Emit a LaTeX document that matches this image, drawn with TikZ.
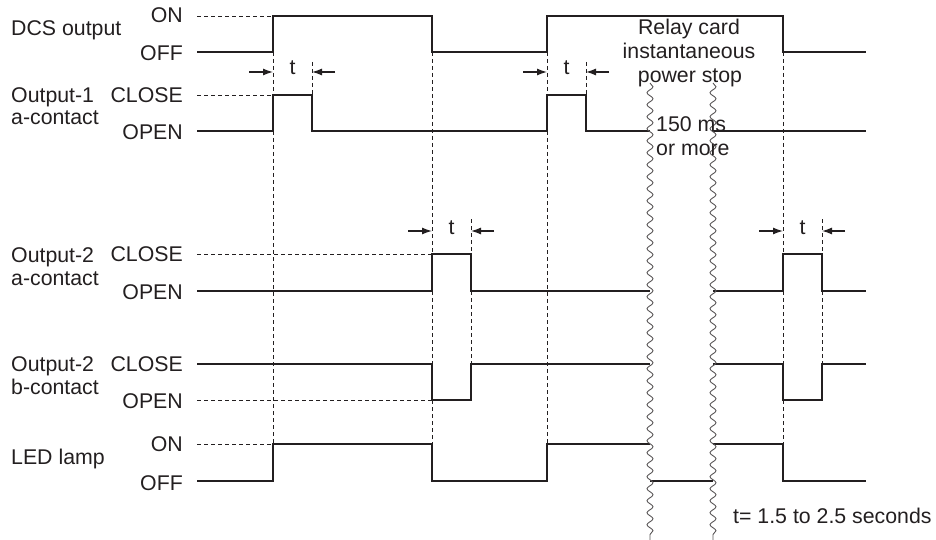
\documentclass[tikz,border=0pt]{standalone}
\usepackage{fontspec}
\setmainfont{Liberation Sans}
\usetikzlibrary{decorations.pathmorphing,arrows.meta,calc}
\definecolor{ink}{HTML}{231F20}
\begin{document}
\begin{tikzpicture}[x=1pt,y=-1pt,
 sig/.style={line width=2.6pt, line join=miter, line cap=butt, draw=ink},
 refdash/.style={line width=0.9pt, dash pattern=on 4pt off 3pt, draw=ink},
 wav/.style={line width=0.9pt, draw=ink!75, decorate, decoration={snake, segment length=12pt, amplitude=3pt}},
 lbl/.style={font=\fontsize{21.3}{24}\selectfont, inner sep=0pt, text=ink},
 lv/.style={lbl, anchor=east},
 ln/.style={lbl, anchor=base west},
 tarr/.style={line width=1.3pt, -{Latex[length=10pt,width=7pt]}, draw=ink}]
\useasboundingbox (0,0) rectangle (936,540);
% ---- left labels
\node[ln] (dcs) at (11,36) {DCS output};
\node[ln] (o1a) at (11,103) {Output-1};
\node[ln] (o1b) at (11,125) {a-contact};
\node[ln] (o2a) at (11,262) {Output-2};
\node[ln] (o2b) at (11,285) {a-contact};
\node[ln] (o3a) at (11,371) {Output-2};
\node[ln] (o3b) at (11,394) {b-contact};
\node[ln] (led) at (11,464) {LED lamp};
% ---- level labels
\node[lv] (l1) at (183,15) {ON};
\node[lv] (l2) at (183,53) {OFF};
\node[lv] (l3) at (183,95) {CLOSE};
\node[lv] (l4) at (183,132) {OPEN};
\node[lv] (l5) at (183,254) {CLOSE};
\node[lv] (l6) at (183,292) {OPEN};
\node[lv] (l7) at (183,364) {CLOSE};
\node[lv] (l8) at (183,401) {OPEN};
\node[lv] (l9) at (183,444) {ON};
\node[lv] (l10) at (183,483) {OFF};
% ---- reference dashed lines
\draw[refdash] (197,16)--(273,16);
\draw[refdash] (197,95)--(273,95);
\draw[refdash] (197,254)--(432,254);
\draw[refdash] (197,400)--(432,400);
\draw[refdash] (197,444)--(273,444);
% vertical dashed
\draw[refdash] (273,52)--(273,95) (273,131)--(273,444);
\draw[refdash] (312,62)--(312,95);
\draw[refdash] (432,52)--(432,254) (432,291)--(432,364) (432,400)--(432,444);
\draw[refdash] (471,219)--(471,254) (471,291)--(471,364);
\draw[refdash] (547,52)--(547,95) (547,131)--(547,444);
\draw[refdash] (586,62)--(586,95);
\draw[refdash] (783,52)--(783,254) (783,291)--(783,364) (783,400)--(783,444);
\draw[refdash] (822,219)--(822,254) (822,291)--(822,364);
% ---- signals
\draw[sig] (197,52)--(273,52)--(273,16)--(432,16)--(432,52)--(547,52)--(547,16)--(783,16)--(783,52)--(866,52);
\draw[sig] (197,131)--(273,131)--(273,95)--(312,95)--(312,131)--(547,131)--(547,95)--(586,95)--(586,131)--(650,131);
\draw[sig] (713,131)--(866,131);
\draw[sig] (197,291)--(432,291)--(432,254)--(471,254)--(471,291)--(650,291);
\draw[sig] (713,291)--(783,291)--(783,254)--(822,254)--(822,291)--(866,291);
\draw[sig] (197,364)--(432,364)--(432,400)--(471,400)--(471,364)--(650,364);
\draw[sig] (713,364)--(783,364)--(783,400)--(822,400)--(822,364)--(866,364);
\draw[sig] (197,481)--(273,481)--(273,444)--(432,444)--(432,481)--(547,481)--(547,444)--(650,444);
\draw[sig] (650,481)--(713,481);
\draw[sig] (713,444)--(783,444)--(783,481)--(866,481);
% ---- wavy break lines
\draw[wav] (650,83)--(650,540);
\draw[wav] (713,83)--(713,540);
% ---- t markers
\foreach \xa/\xb/\yy [count=\i] in {273/312/72, 547/586/72, 432/471/231, 783/822/231}{
  \coordinate (ta\i) at (\xa,\yy);
  \coordinate (tb\i) at (\xb,\yy);
  \draw[tarr] ($(ta\i)+(-24,0)$) -- (ta\i);
  \draw[tarr] ($(tb\i)+(23,0)$) -- (tb\i);
  \node[lbl, anchor=base] (tl\i) at ($(ta\i)!0.5!(tb\i)+(0,3)$) {t};
}
% ---- annotations
\node[lbl, anchor=base] (rc1) at (689,35) {Relay card};
\node[lbl, anchor=base] (rc2) at (689,59) {instantaneous};
\node[lbl, anchor=base] (rc3) at (690,83) {power stop};
\node[lbl, anchor=base west] (ms1) at (656,132) {150 ms};
\node[lbl, anchor=base west] (ms2) at (656,156) {or more};
\node[lbl, anchor=base west] (note) at (733,523) {t= 1.5 to 2.5 seconds};
\end{tikzpicture}
\end{document}
